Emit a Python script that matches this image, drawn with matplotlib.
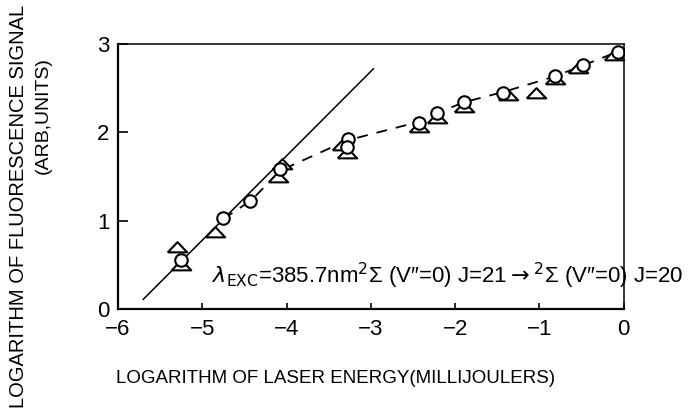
import numpy as np
import matplotlib
matplotlib.use("Agg")
import matplotlib.pyplot as plt

plt.rcParams['font.family'] = ['Liberation Sans', 'DejaVu Sans']
plt.rcParams['mathtext.fontset'] = 'dejavusans'

# solid reference line (slope ~1)
line_x = [-5.70, -2.97]
line_y = [0.11, 2.72]

# dashed curve through the data
dash_x = [-4.75, -4.42, -4.07, -3.28, -2.43, -2.21, -1.90, -1.42, -0.83, -0.48, -0.08]
dash_y = [1.02, 1.23, 1.57, 1.91, 2.12, 2.22, 2.34, 2.46, 2.63, 2.76, 2.91]

# circles
circ_x = [-5.25, -4.76, -4.43, -4.08, -3.27, -3.28, -2.43, -2.21, -1.90, -1.43, -0.82, -0.48, -0.07]
circ_y = [0.56, 1.03, 1.22, 1.58, 1.92, 1.83, 2.11, 2.22, 2.34, 2.45, 2.64, 2.76, 2.91]

# triangles
tri_x = [-5.30, -5.25, -4.85, -4.05, -4.10, -3.34, -3.28, -2.43, -2.21, -1.90, -1.37, -1.04, -0.82, -0.54, -0.12]
tri_y = [0.70, 0.50, 0.87, 1.64, 1.50, 1.86, 1.77, 2.06, 2.16, 2.29, 2.42, 2.45, 2.61, 2.73, 2.88]

fig = plt.figure(figsize=(6.9, 4.12), dpi=100)
ax = fig.add_axes([0.171, 0.250, 0.733, 0.643])

ax.plot(line_x, line_y, color='black', lw=1.1)
ax.plot(dash_x, dash_y, color='black', lw=1.3, dashes=(6, 5))

flat_tri = [(-1.0, -0.5), (1.0, -0.5), (0.0, 0.55), (-1.0, -0.5)]
ax.plot(tri_x, tri_y, linestyle='none', marker=flat_tri, ms=14,
        mfc='white', mec='black', mew=1.5)
ax.plot(circ_x, circ_y, linestyle='none', marker='o', ms=9,
        mfc='white', mec='black', mew=1.5)

ax.text(-4.88, 0.29,
        r'$\lambda_{\mathrm{EXC}}$=385.7nm$^2$Σ (V″=0) J=21$\rightarrow^2$Σ (V″=0) J=20',
        fontsize=16, ha='left', va='baseline', clip_on=False)

ax.set_xlim(-6, 0)
ax.set_ylim(0, 3)
ax.set_xticks([-6, -5, -4, -3, -2, -1, 0])
ax.set_yticks([0, 1, 2, 3])
ax.tick_params(axis='x', direction='in', length=4.5, width=1.2, pad=7, labelsize=16)
ax.tick_params(axis='y', direction='in', length=7.5, width=1.2, pad=6, labelsize=16)
for s in ['left', 'bottom']:
    ax.spines[s].set_linewidth(1.6)
for s in ['top', 'right']:
    ax.spines[s].set_linewidth(1.1)

fig.text(0.486, 0.082, 'LOGARITHM OF LASER ENERGY(MILLIJOULERS)',
         fontsize=13.5, ha='center', va='center')
fig.text(0.027, 0.5, 'LOGARITHM OF FLUORESCENCE SIGNAL',
         fontsize=14.5, rotation=90, ha='center', va='center')
fig.text(0.062, 0.72, '(ARB,UNITS)',
         fontsize=14, rotation=90, ha='center', va='center')

fig.savefig('out.png', dpi=100)
